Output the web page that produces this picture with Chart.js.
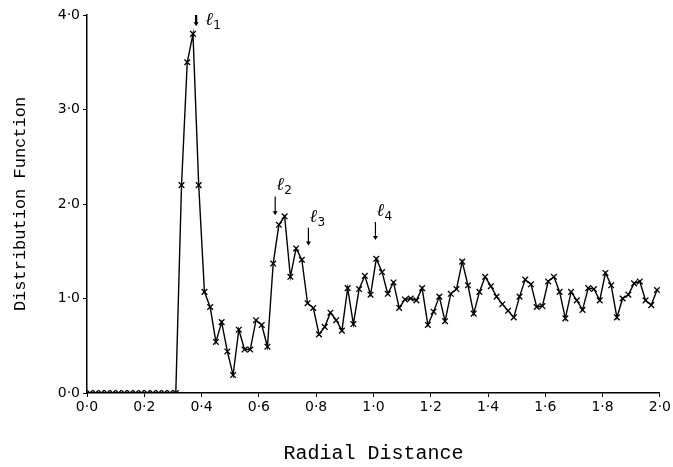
<!DOCTYPE html>
<html>
<head>
<meta charset="utf-8">
<script src="https://cdn.jsdelivr.net/npm/chart.js@4/dist/chart.umd.min.js"></script>
<style>
  body { margin: 0; background: #fff; }
  #wrap { width: 673px; height: 467px; }
</style>
</head>
<body>
<div id="wrap"><canvas id="myChart" width="673" height="467"></canvas></div>
<script>
// radial distance of each point
var radial = [0.01, 0.03, 0.05, 0.07, 0.09, 0.11, 0.13, 0.15, 0.17, 0.19,
  0.21, 0.23, 0.25, 0.27, 0.29, 0.31, 0.33, 0.35, 0.37, 0.39,
  0.41, 0.43, 0.45, 0.47, 0.49, 0.51, 0.53, 0.55, 0.57, 0.59,
  0.61, 0.63, 0.65, 0.67, 0.69, 0.71, 0.73, 0.75, 0.77, 0.79,
  0.81, 0.83, 0.85, 0.87, 0.89, 0.91, 0.93, 0.95, 0.97, 0.99,
  1.01, 1.03, 1.05, 1.07, 1.09, 1.11, 1.13, 1.15, 1.17, 1.19,
  1.21, 1.23, 1.25, 1.27, 1.29, 1.31, 1.33, 1.35, 1.37, 1.39,
  1.41, 1.43, 1.45, 1.47, 1.49, 1.51, 1.53, 1.55, 1.57, 1.59,
  1.61, 1.63, 1.65, 1.67, 1.69, 1.71, 1.73, 1.75, 1.77, 1.79,
  1.81, 1.83, 1.85, 1.87, 1.89, 1.91, 1.93, 1.95, 1.97, 1.99];

// distribution function values
var distFn = [0, 0, 0, 0, 0, 0, 0, 0, 0, 0,
  0, 0, 0, 0, 0, 0, 2.2, 3.5, 3.8, 2.2,
  1.07, 0.91, 0.54, 0.75, 0.44, 0.19, 0.67, 0.46, 0.46, 0.77,
  0.72, 0.49, 1.37, 1.78, 1.87, 1.23, 1.53, 1.41, 0.95, 0.90,
  0.62, 0.70, 0.85, 0.77, 0.66, 1.11, 0.73, 1.10, 1.24, 1.04,
  1.42, 1.28, 1.05, 1.17, 0.90, 0.99, 1.00, 0.98, 1.11, 0.72,
  0.86, 1.02, 0.76, 1.05, 1.10, 1.39, 1.14, 0.84, 1.07, 1.23,
  1.13, 1.02, 0.94, 0.87, 0.80, 1.02, 1.20, 1.15, 0.91, 0.92,
  1.18, 1.23, 1.07, 0.79, 1.07, 0.98, 0.88, 1.11, 1.10, 0.98,
  1.27, 1.14, 0.80, 1.00, 1.04, 1.16, 1.18, 0.98, 0.93, 1.09];

var xTickLabels = ['0·0', '0·2', '0·4', '0·6', '0·8', '1·0', '1·2', '1·4', '1·6', '1·8', '2·0'];
var yTickLabels = ['0·0', '1·0', '2·0', '3·0', '4·0'];

// peak markers: name, arrow x, arrow top, arrow tip
var peakNames = ['1', '2', '3', '4'];
var peakX = [0.381, 0.657, 0.773, 1.007];
var peakTop = [4.0, 2.08, 1.75, 1.81];
var peakTip = [3.88, 1.88, 1.56, 1.62];

var pts = radial.map(function (r, i) { return { x: r, y: distFn[i] }; });

var peakLabels = {
    id: 'peakLabels',
    afterDatasetsDraw: function (chart) {
        var ctx = chart.ctx;
        var xs = chart.scales.x, ys = chart.scales.y;
        ctx.save();
        ctx.strokeStyle = '#000';
        ctx.fillStyle = '#000';
        for (var i = 0; i < peakNames.length; i++) {
            var px = xs.getPixelForValue(peakX[i]);
            var top = ys.getPixelForValue(peakTop[i]);
            var tip = ys.getPixelForValue(peakTip[i]);
            ctx.lineWidth = i == 0 ? 2.2 : 1.2;
            ctx.beginPath();
            ctx.moveTo(px, top);
            ctx.lineTo(px, tip - 3);
            ctx.stroke();
            ctx.beginPath();
            ctx.moveTo(px - 2.5, tip - 4);
            ctx.lineTo(px + 2.5, tip - 4);
            ctx.lineTo(px, tip);
            ctx.closePath();
            ctx.fill();

            var lx, ly;
            if (i == 0) { lx = px + 9; ly = tip - 1; }
            else { lx = px + 1; ly = top - 6; }
            ctx.font = 'italic 18px "DejaVu Serif"';
            ctx.textAlign = 'left';
            ctx.textBaseline = 'alphabetic';
            ctx.fillText('ℓ', lx, ly);
            ctx.font = '12px "DejaVu Sans"';
            ctx.fillText(peakNames[i], lx + 8, ly + 4);
        }
        ctx.restore();
    }
};

new Chart(document.getElementById('myChart'), {
    type: 'line',
    data: {
        datasets: [{
            data: pts,
            borderColor: '#000',
            borderWidth: 1.4,
            pointStyle: 'crossRot',
            pointRadius: 4,
            pointBorderWidth: 1.3,
            pointBorderColor: '#000',
            tension: 0,
            fill: false
        }]
    },
    options: {
        responsive: false,
        animation: false,
        layout: { padding: { top: 15, right: 13, left: 0, bottom: 0 } },
        plugins: { legend: { display: false }, tooltip: { enabled: false } },
        scales: {
            x: {
                type: 'linear',
                min: 0, max: 2,
                afterFit: function (s) { s.height = 74; },
                ticks: {
                    stepSize: 0.2,
                    color: '#000',
                    font: { family: '"DejaVu Sans"', size: 14 },
                    maxRotation: 0,
                    padding: 2,
                    callback: function (v, i) { return xTickLabels[i]; }
                },
                grid: { display: true, drawOnChartArea: false, drawTicks: true, tickLength: 4, color: '#000' },
                border: { display: true, color: '#000', width: 1.5 },
                title: {
                    display: true,
                    text: 'Radial Distance',
                    color: '#000',
                    font: { family: '"Liberation Mono"', size: 20 },
                    padding: { top: 0, bottom: 1 }
                }
            },
            y: {
                min: 0, max: 4,
                afterFit: function (s) { s.width = 87; },
                ticks: {
                    stepSize: 1,
                    color: '#000',
                    font: { family: '"DejaVu Sans"', size: 14 },
                    padding: 3,
                    callback: function (v, i) { return yTickLabels[i]; }
                },
                grid: { display: true, drawOnChartArea: false, drawTicks: true, tickLength: 4, color: '#000' },
                border: { display: true, color: '#000', width: 1.5 },
                title: {
                    display: true,
                    text: 'Distribution Function',
                    color: '#000',
                    font: { family: '"Liberation Mono"', size: 17 },
                    padding: { top: 10, bottom: 0 }
                }
            }
        }
    },
    plugins: [peakLabels]
});
</script>
</body>
</html>
